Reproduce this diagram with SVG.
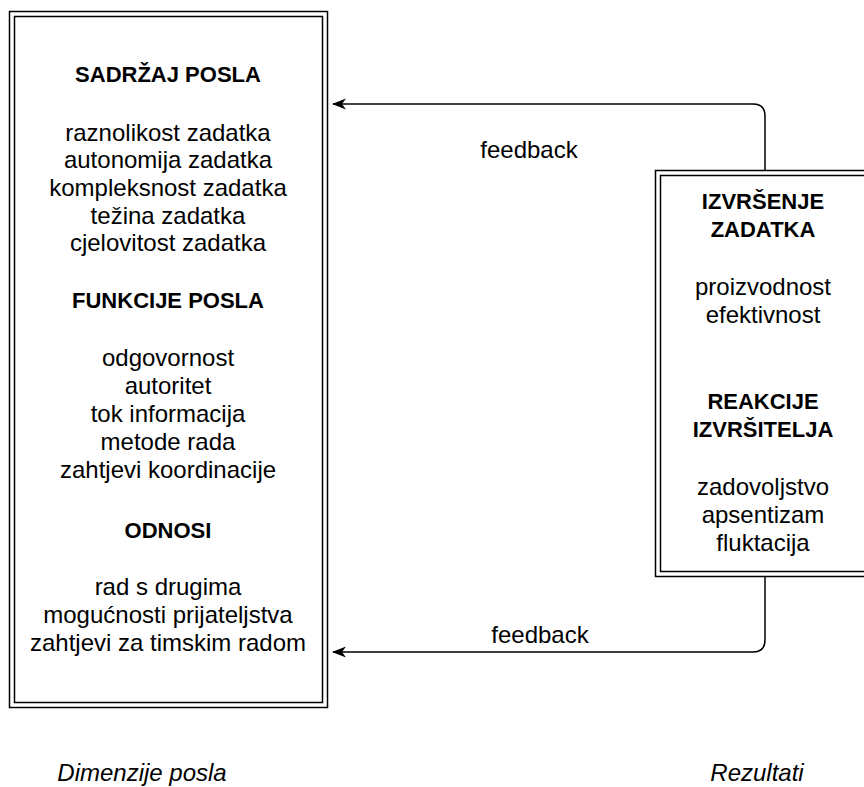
<svg xmlns="http://www.w3.org/2000/svg" width="864" height="787" viewBox="0 0 864 787">
<style>
.box{fill:none;stroke:#000;stroke-width:1.5}
.t{font-family:"Liberation Sans",Arial,sans-serif;font-size:24px;fill:#000;text-anchor:middle}
.b{font-weight:bold;font-size:22px}
.i{font-style:italic}
.c{fill:none;stroke:#000;stroke-width:1.5}
</style>
<defs>
<marker id="ah" viewBox="0 0 14 12" refX="13" refY="6" markerWidth="14" markerHeight="12" markerUnits="userSpaceOnUse" orient="auto">
<path d="M14,6 L0,0.5 L4,6 L0,11.5 Z" fill="#000"/>
</marker>
</defs>
<rect width="864" height="787" fill="#fff"/>
<g id="dimenzije">
<rect class="box" x="9.5" y="11.5" width="318" height="696"/>
<rect class="box" x="14.5" y="16.5" width="308" height="686"/>
<text class="t b" x="168" y="82">SADRŽAJ POSLA</text>
<text class="t" x="168" y="141">raznolikost zadatka</text>
<text class="t" x="168" y="168">autonomija zadatka</text>
<text class="t" x="168" y="196">kompleksnost zadatka</text>
<text class="t" x="168" y="224">težina zadatka</text>
<text class="t" x="168" y="251">cjelovitost zadatka</text>
<text class="t b" x="168" y="308">FUNKCIJE POSLA</text>
<text class="t" x="168" y="366">odgovornost</text>
<text class="t" x="168" y="394">autoritet</text>
<text class="t" x="168" y="422">tok informacija</text>
<text class="t" x="168" y="450">metode rada</text>
<text class="t" x="168" y="478">zahtjevi koordinacije</text>
<text class="t b" x="168" y="538">ODNOSI</text>
<text class="t" x="168" y="595">rad s drugima</text>
<text class="t" x="168" y="623">mogućnosti prijateljstva</text>
<text class="t" x="168" y="651">zahtjevi za timskim radom</text>
</g>
<g id="rezultati">
<rect class="box" x="655.5" y="170.5" width="216" height="406"/>
<rect class="box" x="660.5" y="175.5" width="206" height="396"/>
<text class="t b" x="763" y="209">IZVRŠENJE</text>
<text class="t b" x="763" y="237">ZADATKA</text>
<text class="t" x="763" y="295">proizvodnost</text>
<text class="t" x="763" y="323">efektivnost</text>
<text class="t b" x="763" y="409">REAKCIJE</text>
<text class="t b" x="763" y="437">IZVRŠITELJA</text>
<text class="t" x="763" y="495">zadovoljstvo</text>
<text class="t" x="763" y="523">apsentizam</text>
<text class="t" x="763" y="551">fluktacija</text>
</g>
<g id="connectors">
<path class="c" d="M765,170 V116 Q765,104 753,104 H333" marker-end="url(#ah)"/>
<path class="c" d="M765,577 V640 Q765,652 753,652 H333" marker-end="url(#ah)"/>
<text class="t" x="529" y="158">feedback</text>
<text class="t" x="540" y="643">feedback</text>
</g>
<g id="labels">
<text class="t i" x="142" y="781">Dimenzije posla</text>
<text class="t i" x="757" y="781">Rezultati</text>
</g>
</svg>
